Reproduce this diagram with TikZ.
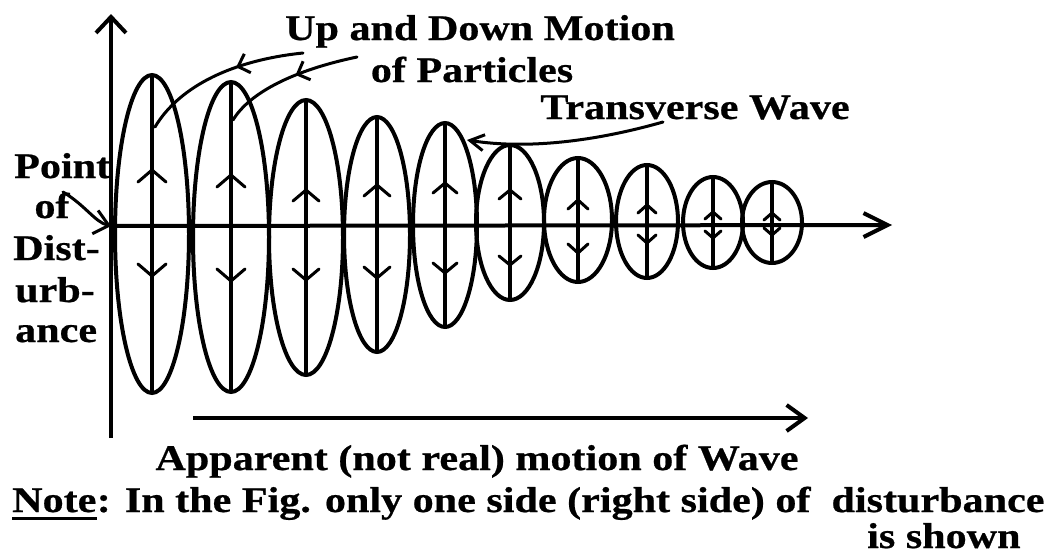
\documentclass[tikz,border=0pt]{standalone}
\usepackage{fontspec}
\setmainfont{Liberation Serif}[FakeStretch=1.17, BoldFeatures={FakeBold=0.6}]
\usetikzlibrary{arrows.meta,decorations.markings}
\tikzset{
  lab/.style={font=\fontsize{36}{42}\selectfont\bfseries, inner sep=0pt, anchor=base},
  curve/.style={line width=4pt},
  vline/.style={line width=3.5pt},
  axis/.style={line width=4pt},
  ptr/.style={line width=3pt, line cap=round},
  barb/.style={line width=3pt, line cap=round, line join=round},
}
\begin{document}
\begin{tikzpicture}[x=1pt,y=-1pt]
\useasboundingbox (0,0) rectangle (1051,557);
% axes
\coordinate (o) at (111,226);
\coordinate (ytop) at (111,14);
\coordinate (ybot) at (111,438);
\coordinate (xend) at (892,225);
\draw[axis, -{Straight Barb[length=16pt,width=30pt]}] (ybot) -- (ytop);
\draw[axis, -{Straight Barb[length=24pt,width=24pt]}] (o) -- (xend);
% ellipses
\foreach \cx/\yt/\yb/\hw/\yu/\yd/\aw/\al in {
152/75/393/37/170/276/28/12,
231/82/392/38/175/281/28/12,
306/100/375/37/190/280/26/11,
377/117/352/33/185/278/26/11,
445/123/327/32/183/273/24/10,
510/145/300/34/190/265/22/9,
578/158/282/34/200/253/20/9,
647/165/278/31/205/243/18/8,
713/177/268/30/212/238/16/7,
772/182/263/30/213/235/16/7}
{
  \pgfmathsetmacro\cy{(\yt+\yb)/2}
  \pgfmathsetmacro\ry{(\yb-\yt)/2}
  \draw[curve] (\cx,\cy) ellipse [x radius=\hw pt, y radius=\ry pt];
  \draw[vline] (\cx,\yt) -- (\cx,\yb);
  \draw[barb] ({\cx-\aw/2},{\yu+\al}) -- (\cx,\yu) -- ({\cx+\aw/2},{\yu+\al});
  \draw[barb] ({\cx-\aw/2},{\yd-\al}) -- (\cx,\yd) -- ({\cx+\aw/2},{\yd-\al});
}
% bottom arrow
\coordinate (ba) at (193,418);
\coordinate (bb) at (808,418);
\draw[axis, -{Straight Barb[length=18pt,width=26pt]}] (ba) -- (bb);
% labels
\node[lab] (up) at (480,40) {Up and Down Motion};
\node[lab] (part) at (472,82) {of Particles};
\node[lab] (trans) at (695,119) {Transverse Wave};
\node[lab, anchor=base west] (pt1) at (14,178) {Point};
\node[lab] (pt2) at (52,218) {of};
\node[lab, anchor=base west] (pt3) at (13,260) {Dist-};
\node[lab, anchor=base west] (pt4) at (15,302) {urb-};
\node[lab, anchor=base west] (pt5) at (15,342) {ance};
\node[lab] (app) at (477,470) {Apparent (not real) motion of Wave};
\node[lab, anchor=base west] (note) at (12,512) {Note};
\node[lab, anchor=base west] (rest) at (note.base east) {: In the Fig. only one side (right side) of~~disturbance};
\node[lab, anchor=base west] (shown) at (867,548) {is shown};
\draw[line width=3pt] ([yshift=-6pt]note.base west) -- ([yshift=-6pt]note.base east);
% pointers
\coordinate (p1s) at (303,53);
\coordinate (p1e) at (155,127);
\coordinate (p2s) at (357,57);
\coordinate (p2e) at (233,120);
\coordinate (p3s) at (663,122);
\coordinate (p3e) at (467,140);
\coordinate (p4s) at (63,192);
\draw[ptr, postaction=decorate, decoration={markings, mark=at position 0.4 with {\arrow{Straight Barb[length=10pt,width=20pt]}}}]
  (p1s) .. controls (235,60) and (180,85) .. (p1e);
\draw[ptr, postaction=decorate, decoration={markings, mark=at position 0.45 with {\arrow{Straight Barb[length=10pt,width=20pt]}}}]
  (p2s) .. controls (295,70) and (250,92) .. (p2e);
\draw[ptr, -{Straight Barb[length=14pt,width=16pt]}] (p3s) .. controls (600,140) and (530,150) .. (p3e);
\draw[ptr, -{Straight Barb[length=14pt,width=24pt]}] (p4s) .. controls (85,205) and (95,222) .. (o);
\end{tikzpicture}
\end{document}
